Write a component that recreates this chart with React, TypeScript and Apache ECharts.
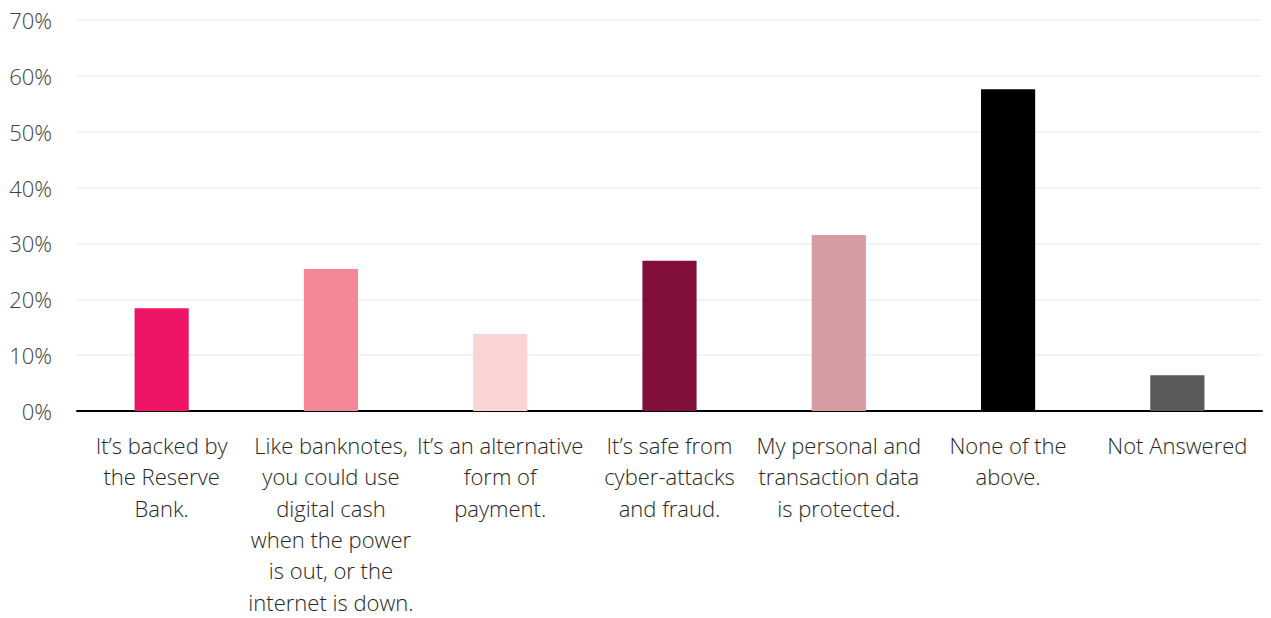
import React, { useEffect, useRef } from "react";
import * as echarts from "echarts";

const categories = [
  "It’s backed by\nthe Reserve\nBank.",
  "Like banknotes,\nyou could use\ndigital cash\nwhen the power\nis out, or the\ninternet is down.",
  "It’s an alternative\nform of\npayment.",
  "It’s safe from\ncyber-attacks\nand fraud.",
  "My personal and\ntransaction data\nis protected.",
  "None of the\nabove.",
  "Not Answered",
];
const values = [18.4, 25.4, 13.8, 26.9, 31.5, 57.6, 6.4];
const colors = ["#EE1466", "#F48896", "#FAD3D5", "#820F3A", "#D59CA2", "#000000", "#5A5A5C"];
const yTicks = [0, 10, 20, 30, 40, 50, 60, 70];

const FONT = "'Open Sans', 'Segoe UI', sans-serif";

export default function App() {
  const ref = useRef<HTMLDivElement>(null);
  useEffect(() => {
    if (!ref.current) return;
    const chart = echarts.init(ref.current, undefined, { renderer: "svg" });
    chart.setOption({
      animation: false,
      grid: {
        left: 77,
        right: 9,
        top: 20,
        bottom: 207,
        containLabel: false,
        outerBoundsMode: "none",
      },
      xAxis: {
        type: "category",
        data: categories,
        axisLine: { show: true, lineStyle: { color: "#000", width: 2 } },
        axisTick: { show: false },
        axisLabel: {
          interval: 0,
          margin: 18,
          fontFamily: FONT,
          fontWeight: 300,
          fontSize: 22,
          lineHeight: 31.4,
          color: "#262626",
          align: "center",
          verticalAlign: "top",
        },
      },
      yAxis: {
        type: "value",
        min: yTicks[0],
        max: yTicks[yTicks.length - 1],
        interval: 10,
        axisLine: { show: false },
        axisTick: { show: false },
        splitLine: { lineStyle: { color: "#EFEFEF", width: 1.5 } },
        axisLabel: {
          margin: 25,
          fontFamily: FONT,
          fontWeight: 300,
          fontSize: 22,
          color: "#404040",
          formatter: (v: number) => `${v}%`,
        },
      },
      series: [
        {
          type: "bar",
          barWidth: "32%",
          data: values.map((v, i) => ({ value: v, itemStyle: { color: colors[i] } })),
        },
      ],
    });
    return () => chart.dispose();
  }, []);
  return (
    <div
      ref={ref}
      style={{ position: "absolute", left: 0, top: 0, width: 1271, height: 618 }}
    />
  );
}
